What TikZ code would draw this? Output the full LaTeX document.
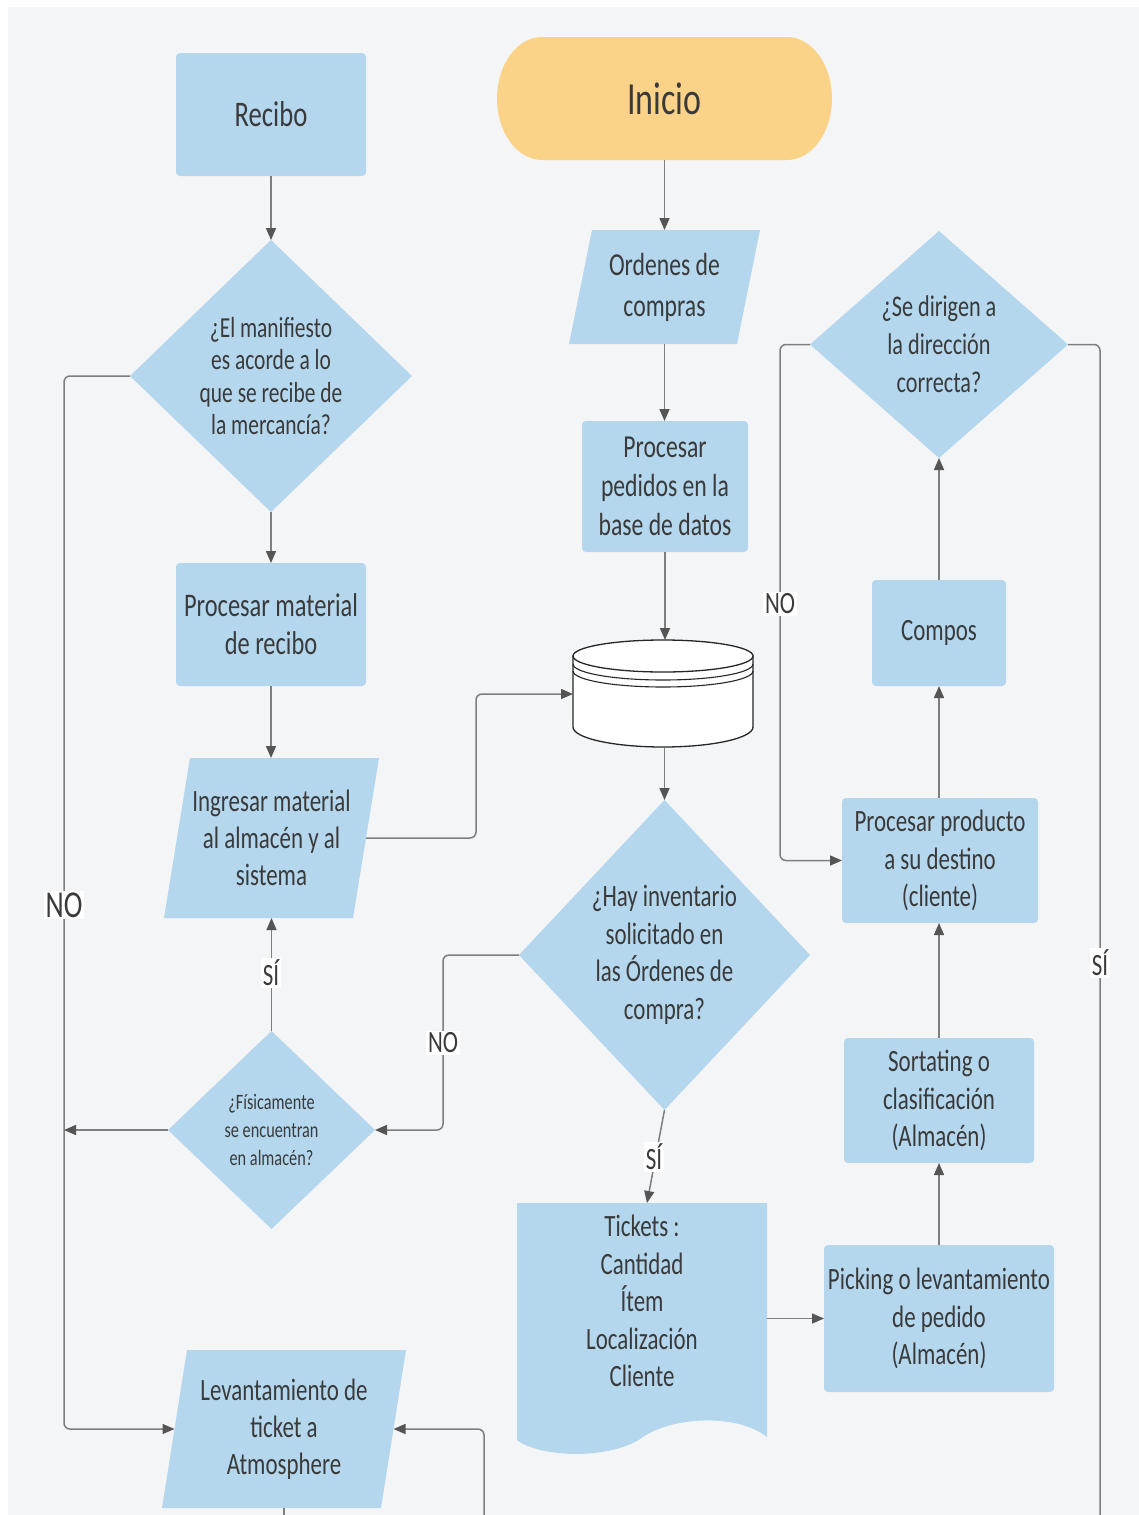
\documentclass[tikz,border=0pt]{standalone}
\usepackage{fontspec}
\setmainfont[FakeStretch=0.74]{Carlito}
\usetikzlibrary{shapes.geometric,arrows.meta,calc}
\pgfdeclarelayer{panel}
\pgfdeclarelayer{background}
\pgfsetlayers{panel,background,main}

\definecolor{panelgray}{HTML}{F4F5F7}
\definecolor{boxblue}{HTML}{B4D7EE}
\definecolor{startyel}{HTML}{FAD389}
\definecolor{linegray}{HTML}{7E7E7E}
\definecolor{tipgray}{HTML}{555555}
\definecolor{textgray}{HTML}{3A3A3A}

\newcommand\fsz[2]{\fontsize{#1pt}{#2pt}\selectfont}
% blue parallelogram behind a text node; #2 = half of the horizontal slant
\newcommand\parafill[2]{%
  \fill[boxblue] ([xshift=#2]#1.north west) -- ([xshift=#2]#1.north east)
    -- ([xshift=-#2]#1.south east) -- ([xshift=-#2]#1.south west) -- cycle;}

\begin{document}
\begin{tikzpicture}[x=1pt,y=-1pt,
  every node/.style={inner sep=0pt,outer sep=0pt,align=center,text=textgray},
  box/.style={rectangle,fill=boxblue,rounded corners=4pt,font=\fsz{33}{38}},
  slot/.style={rectangle,font=\fsz{33}{38}},
  dia/.style={diamond,fill=boxblue},
  conn/.style={draw=linegray,line width=1.5pt,rounded corners=6pt,
    -{Triangle[length=12pt,width=10pt,color=tipgray]}},
  wire/.style={draw=linegray,line width=1.5pt,rounded corners=6pt},
  lbl/.style={fill=white,inner sep=2pt,font=\fsz{31}{34}}]

\useasboundingbox (0,0) rectangle (1139,1515);
\begin{pgfonlayer}{panel}
  \fill[white] (0,0) rectangle (1139,1515);
  \fill[panelgray] (8,7) rectangle (1139,1515);
\end{pgfonlayer}

% ---- left column ----
\node[box,minimum width=190,minimum height=123,font=\fsz{36}{40}] (recibo) at (271,114.5) {Recibo};
\node[dia,minimum width=282,minimum height=272,aspect=1.04,font=\fsz{29}{32.5}] (d1) at (271,376)
  {¿El manifiesto\\es acorde a lo\\que se recibe de\\la mercancía?};
\node[box,minimum width=190,minimum height=123] (procmat) at (271,624.5)
  {Procesar material\\de recibo};
\node[slot,minimum width=189,minimum height=160,font=\fsz{31}{37}] (ingresar) at (271.5,838)
  {Ingresar material\\al almacén y al\\sistema};
\node[dia,minimum width=207,minimum height=198,aspect=1.05,font=\fsz{22}{28}] (d2) at (271.5,1130)
  {¿Físicamente\\se encuentran\\en almacén?};
\node[slot,minimum width=219,minimum height=158,font=\fsz{31}{37}] (levant) at (284,1429)
  {Levantamiento de\\ticket a\\Atmosphere};

% ---- middle column ----
\node[slot,minimum width=335,minimum height=123,font=\fsz{46}{50}] (inicio) at (664.5,98.5) {Inicio};
\node[slot,minimum width=168,minimum height=114,font=\fsz{32}{41}] (ordenes) at (664.5,287)
  {Ordenes de\\compras};
\node[box,minimum width=166,minimum height=131,font=\fsz{32}{39}] (procped) at (665,486.5)
  {Procesar\\pedidos en la\\base de datos};
\node[rectangle,minimum width=180,minimum height=108] (db) at (663,694) {};
\node[dia,minimum width=291,minimum height=310,aspect=0.94,font=\fsz{31}{37.5}] (d3) at (664.5,955)
  {¿Hay inventario\\solicitado en\\las Órdenes de\\compra?};
\node[slot,minimum width=250,minimum height=196,font=\fsz{31}{37.5}] (tickets) at (642,1301)
  {Tickets :\\Cantidad\\Ítem\\Localización\\Cliente};

% ---- right column ----
\node[dia,minimum width=258,minimum height=227,aspect=1.14,font=\fsz{30}{38}] (d4) at (939,344.5)
  {¿Se dirigen a\\la dirección\\correcta?};
\node[box,minimum width=134,minimum height=106,font=\fsz{31}{37}] (compos) at (939,633) {Compos};
\node[box,minimum width=196,minimum height=125,font=\fsz{31}{37.5}] (procprod) at (940,860.5)
  {Procesar producto\\a su destino\\(cliente)};
\node[box,minimum width=190,minimum height=125,font=\fsz{31}{37.5}] (sorting) at (939,1100.5)
  {Sortating o\\clasificación\\(Almacén)};
\node[box,minimum width=230,minimum height=147,font=\fsz{31}{37.5}] (picking) at (939,1318.5)
  {Picking o levantamiento\\de pedido\\(Almacén)};

% ---- shapes drawn behind their text ----
\begin{pgfonlayer}{background}
  \fill[startyel] ([xshift=45pt]inicio.north west) -- ([xshift=-45pt]inicio.north east)
    arc[start angle=90,end angle=-90,x radius=45pt,y radius=61.5pt]
    -- ([xshift=45pt]inicio.south west)
    arc[start angle=270,end angle=90,x radius=45pt,y radius=61.5pt] -- cycle;
  \parafill{ordenes}{11.5pt}
  \parafill{ingresar}{13pt}
  \parafill{levant}{12.5pt}
  \fill[boxblue] (tickets.north west) -- (tickets.north east) -- (767,1437)
    .. controls (735,1412) and (670,1418) .. (643,1437)
    .. controls (612,1460) and (540,1458) .. (517,1440) -- cycle;
\end{pgfonlayer}

% database drum
\filldraw[fill=white,draw=black!85,line width=1.3pt]
  (db.west |- 0,656) -- (db.west |- 0,727)
  arc[start angle=180,end angle=360,x radius=90pt,y radius=20pt]
  -- (db.east |- 0,656) -- cycle;
\filldraw[fill=white,draw=black!85,line width=1.3pt] (663,656) ellipse[x radius=90pt,y radius=16pt];
\draw[black!85,line width=1.1pt] (db.west |- 0,664) arc[start angle=180,end angle=360,x radius=90pt,y radius=16pt];
\draw[black!85,line width=1.1pt] (db.west |- 0,671) arc[start angle=180,end angle=360,x radius=90pt,y radius=16pt];

% ---- connectors ----
\coordinate (noline) at (64,376);
\coordinate (exitright) at (1100,1515);
\coordinate (entrybottom) at (484,1515);

\draw[conn] (recibo.south) -- (d1.north);
\draw[conn] (d1.south) -- (procmat.north);
\draw[conn] (procmat.south) -- (procmat.south |- ingresar.north);
\draw[conn] (d1.west) -- (noline) |- (levant.west);
\draw[conn] (ingresar.east) -- ++(110,0) |- (db.west);
\draw[conn] (d2.north) -- (d2.north |- ingresar.south);
\draw[conn] (d2.west) -- (noline |- d2.west);
\draw[conn] (d3.west) -- ++(-76,0) |- (d2.east);
\draw[conn] (d3.south) -- ([xshift=5pt]tickets.north);
\draw[conn] (inicio.south) -- (ordenes.north);
\draw[conn] (ordenes.south) -- (ordenes.south |- procped.north);
\draw[conn] (procped.south) -- (procped.south |- db.north);
\draw[conn] (db.south -| d3.north) -- (d3.north);
\draw[conn] (tickets.east |- picking.west) -- (picking.west);
\draw[conn] (picking.north) -- (picking.north |- sorting.south);
\draw[conn] (sorting.north) -- (sorting.north |- procprod.south);
\draw[conn] (procprod.north -| compos.south) -- (compos.south);
\draw[conn] (compos.north) -- (d4.south);
\draw[conn] (d4.west) -- ++(-30,0) |- (procprod.west);
\draw[wire] (d4.east) -| (exitright);
\draw[conn] (entrybottom) |- (levant.east);
\draw[wire] (levant.south) -- (levant.south |- entrybottom);

% ---- branch labels ----
\node[lbl,font=\fsz{38}{40}] (nomanifest) at (64,905) {NO};
\node[lbl] (siingresar) at (271,973) {SÍ};
\node[lbl] (noinventario) at (443,1043) {NO};
\node[lbl] (siinventario) at (654,1157) {SÍ};
\node[lbl] (nodireccion) at (780,604) {NO};
\node[lbl] (sidireccion) at (1100,963) {SÍ};

\end{tikzpicture}
\end{document}
